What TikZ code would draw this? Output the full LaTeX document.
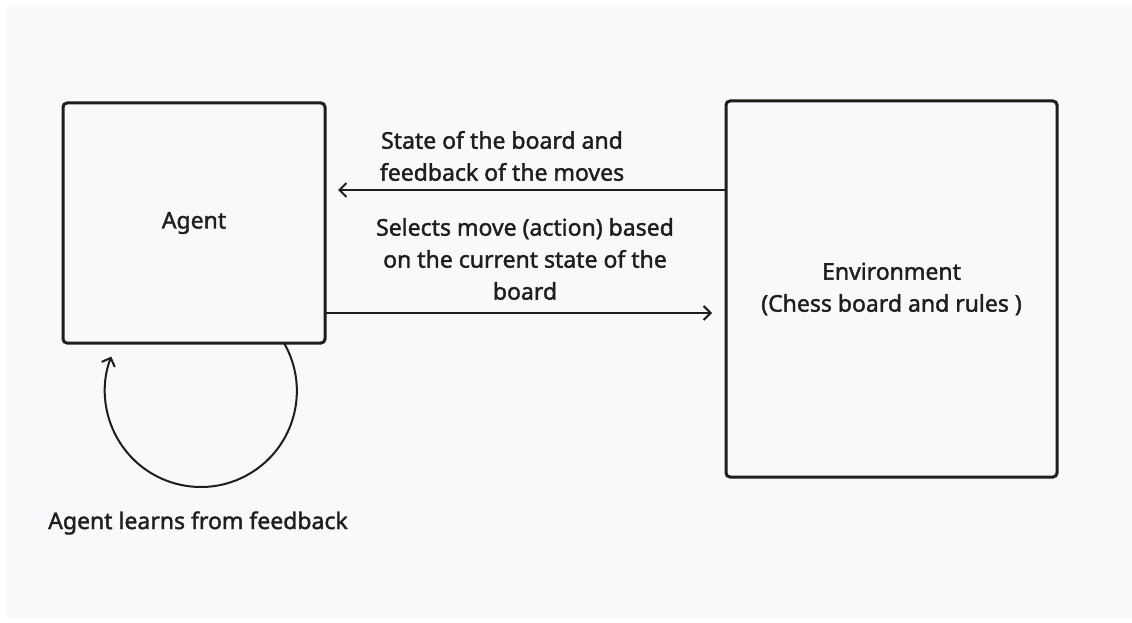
\documentclass[tikz,border=0pt]{standalone}
\usepackage{fontspec}
\setmainfont{Noto Sans}[UprightFeatures={FakeBold=1.6}]
\usepackage{tikz}
\usetikzlibrary{positioning}
\usetikzlibrary{arrows.meta}

\definecolor{canvas}{HTML}{F8F9FB}
\definecolor{ink}{HTML}{1E1E1E}

\begin{document}
\begin{tikzpicture}[
        x=1pt, y=1pt,
        font=\fontsize{23}{32}\selectfont,
        text=ink,
        box/.style={
            rectangle,
            draw=ink,
            line width=3pt,
            rounded corners=4pt,
            outer sep=0pt,
            align=center
        },
        arrow/.style={
            -{Straight Barb[length=7pt,width=14pt,line width=2pt]},
            draw=ink,
            line width=2pt
        },
        label/.style={
            align=center,
            inner sep=0pt
        }
    ]

    % Canvas
    \useasboundingbox (0,0) rectangle (1132,622);
    \fill[white] (0,0) rectangle (1132,622);
    \fill[canvas] (6,5) rectangle (1132,615);

    % Nodes
    \node[box, minimum width=262pt, minimum height=240pt] (agent) at (194,399) {Agent};
    \node[box, minimum width=331pt, minimum height=376pt] (env) at (891.5,333) {Environment\\(Chess board and rules )};

    % Labels
    \node[label] (feedback) at (502,466) {State of the board and\\feedback of the moves};
    \node[label] (action) at (525,363) {Selects move (action) based\\on the current state of the\\board};
    \node[label] (learn) at (198,99) {Agent learns from feedback};

    % Arrows
    \draw[arrow] ([yshift=99pt]env.west) -- ([xshift=13pt,yshift=33pt]agent.east);
    \draw[arrow] ([yshift=-90pt]agent.east) -- ([xshift=-14pt,yshift=-24pt]env.west);
    \draw[arrow] ([xshift=90pt]agent.south) arc[start angle=30, end angle=-201, radius=96pt];

\end{tikzpicture}
\end{document}
